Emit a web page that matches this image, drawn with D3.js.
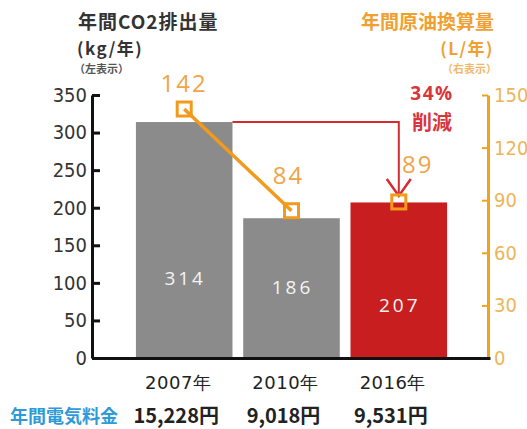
<!DOCTYPE html>
<html>
<head>
<meta charset="utf-8">
<script src="https://cdn.jsdelivr.net/npm/d3@7"></script>
<style>
  body { margin: 0; background: #fff; }
  svg { display: block; }
  text { font-family: "Noto Sans CJK JP", "Noto Sans", sans-serif; }
  .tick text { font-family: "Liberation Sans Narrow", "DejaVu Sans Condensed", "Noto Sans", sans-serif; }
</style>
</head>
<body>
<svg width="527" height="429"></svg>
<script>
// data
var years = ["2007年", "2010年", "2016年"];
var co2 = [314, 186, 207];          // kg/年 (left)
var oil = [142, 84, 89];            // L/年 (right)
var costs = ["15,228円", "9,018円", "9,531円"];
var leftTicks = [0, 50, 100, 150, 200, 250, 300, 350];
var rightTicks = [0, 30, 60, 90, 120, 150];
var barColors = ["#8b8b8b", "#8b8b8b", "#c81e1f"];

var svg = d3.select("svg");

var yL = d3.scaleLinear().domain([0, 350]).range([358, 95]);
var yR = d3.scaleLinear().domain([0, 150]).range([358, 95]);
var x = d3.scaleBand().domain(years).range([93, 490]).paddingInner(0.1).paddingOuter(0.4);
var cx = function(i) { return x(years[i]) + x.bandwidth() / 2; };

// bars
svg.selectAll(".bar")
   .data(co2)
   .enter().append("rect")
   .attr("class", "bar")
   .attr("x", function(d, i) { return x(years[i]); })
   .attr("y", function(d) { return yL(d); })
   .attr("width", x.bandwidth())
   .attr("height", function(d) { return yL(0) - yL(d); })
   .attr("fill", function(d, i) { return barColors[i]; });

// bar values (they sit at different heights in the original)
var valueLift = [73, 64, 46];
svg.selectAll(".val")
   .data(co2)
   .enter().append("text")
   .attr("x", function(d, i) { return cx(i) + 1; })
   .attr("y", function(d, i) { return yL(0) - valueLift[i]; })
   .attr("text-anchor", "middle")
   .attr("fill", "#f4f4f4")
   .style("font-family", "'Open Sans', sans-serif")
   .style("font-size", "19px")
   .style("letter-spacing", "3px")
   .text(function(d) { return d; });

// left axis
var gL = svg.append("g")
   .attr("transform", "translate(92,0)")
   .call(d3.axisLeft(yL).tickValues(leftTicks).tickSizeInner(-8).tickSizeOuter(0).tickPadding(5));
gL.select(".domain").attr("stroke", "#111").attr("stroke-width", 3);
gL.selectAll(".tick line").attr("stroke", "#111").attr("stroke-width", 3);
gL.selectAll(".tick text").attr("fill", "#333").style("font-size", "20px");

// right axis
var gR = svg.append("g")
   .attr("transform", "translate(488,0)")
   .call(d3.axisRight(yR).tickValues(rightTicks).tickSizeInner(-6).tickSizeOuter(0).tickPadding(6));
gR.select(".domain").attr("stroke", "#f2a21e").attr("stroke-width", 3);
gR.selectAll(".tick line").attr("stroke", "#f2a21e").attr("stroke-width", 2);
gR.selectAll(".tick text").attr("fill", "#edb55a").style("font-size", "20px");

// bottom axis with years
var gX = svg.append("g")
   .attr("transform", "translate(0,358)")
   .call(d3.axisBottom(x).tickSize(0).tickPadding(18));
gX.select(".domain").attr("stroke", "#111").attr("stroke-width", 3);
gX.selectAll(".tick text")
  .attr("fill", "#222")
  .attr("dx", -6)
  .style("font-family", "'DejaVu Sans', sans-serif")
  .style("font-size", "18px")
  .style("letter-spacing", "0.5px");

// red arrow: 2007 bar top -> 2016 marker
var ax = cx(2), ay = yL(co2[0]), tipY = yR(oil[2]) - 6;
svg.append("path")
   .attr("d", d3.line()([[x(years[0]) + x.bandwidth(), ay], [ax, ay], [ax, tipY]]))
   .attr("fill", "none")
   .attr("stroke", "#d42a30")
   .attr("stroke-width", 2);
svg.append("path")
   .attr("d", d3.line()([[ax - 12, tipY - 17], [ax, tipY], [ax + 12, tipY - 17]]))
   .attr("fill", "none")
   .attr("stroke", "#d42a30")
   .attr("stroke-width", 2.5);

svg.append("text").attr("x", 432).attr("y", 100).attr("text-anchor", "middle")
   .attr("fill", "#d8363c").style("font-size", "19px").style("font-weight", "bold")
   .style("font-family", "'Open Sans', sans-serif").style("letter-spacing", "1.5px")
   .text("34%");
svg.append("text").attr("x", 432).attr("y", 130).attr("text-anchor", "middle")
   .attr("fill", "#d8363c").style("font-size", "20px").style("font-weight", "bold")
   .text("削減");

// orange line (only 2007 -> 2010 is drawn in the original)
svg.append("path")
   .attr("d", d3.line().x(function(d, i) { return cx(i); }).y(function(d) { return yR(d); })(oil.slice(0, 2)))
   .attr("fill", "none")
   .attr("stroke", "#f29a1c")
   .attr("stroke-width", 3.5);

svg.selectAll(".mark")
   .data(oil)
   .enter().append("rect")
   .attr("x", function(d, i) { return cx(i) - 7; })
   .attr("y", function(d) { return yR(d) - 7; })
   .attr("width", 14)
   .attr("height", 14)
   .attr("fill", "none")
   .attr("stroke", "#f29a1c")
   .attr("stroke-width", 3);

var oilDx = [0, -3, 19], oilDy = [-17, -27, -29];
svg.selectAll(".oilval")
   .data(oil)
   .enter().append("text")
   .attr("x", function(d, i) { return cx(i) + oilDx[i]; })
   .attr("y", function(d, i) { return yR(d) + oilDy[i]; })
   .attr("text-anchor", "middle")
   .attr("fill", "#f0a448")
   .style("font-family", "'Open Sans', sans-serif")
   .style("font-size", "24px")
   .style("letter-spacing", "2px")
   .text(function(d) { return d; });

// titles
var tl = svg.append("g").attr("fill", "#333").style("font-weight", "bold");
tl.append("text").attr("x", 78).attr("y", 29).style("font-size", "19px").style("letter-spacing", "1px").text("年間CO2排出量");
tl.append("text").attr("x", 77).attr("y", 55).style("font-size", "17px").style("letter-spacing", "1.5px").text("(kg/年)");
tl.append("text").attr("x", 74).attr("y", 73).style("font-size", "11px").attr("fill", "#555").text("（左表示）");

var tr = svg.append("g").attr("fill", "#f0a030").style("font-weight", "bold").attr("text-anchor", "end");
tr.append("text").attr("x", 494).attr("y", 29).style("font-size", "19px").text("年間原油換算量");
tr.append("text").attr("x", 494).attr("y", 55).style("font-size", "17px").style("letter-spacing", "1.5px").text("(L/年)");
tr.append("text").attr("x", 497).attr("y", 73).style("font-size", "11px").attr("fill", "#f2b868").text("（右表示）");

// electricity cost row
svg.append("text").attr("x", 10).attr("y", 423)
   .attr("fill", "#2e9ad8").style("font-size", "18px").style("font-weight", "bold")
   .text("年間電気料金");
svg.selectAll(".cost")
   .data(costs)
   .enter().append("text")
   .attr("x", function(d, i) { return cx(i) - 8; })
   .attr("y", 423)
   .attr("text-anchor", "middle")
   .attr("fill", "#222")
   .style("font-size", "20px")
   .style("font-weight", "bold")
   .text(function(d) { return d; });
</script>
</body>
</html>
